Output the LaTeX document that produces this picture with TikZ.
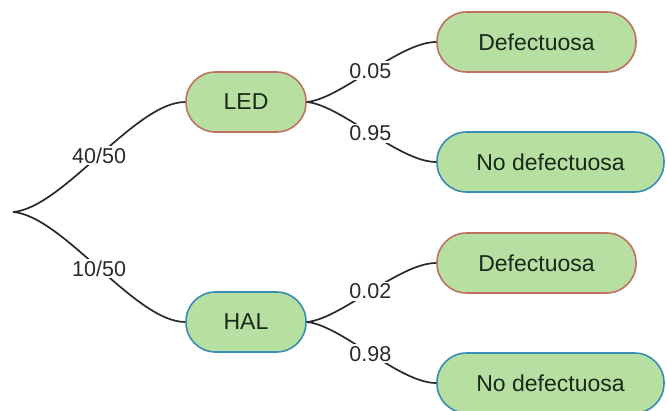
\documentclass[tikz,border=0pt]{standalone}
\usepackage{fontspec}
\setmainfont{Liberation Sans}
\definecolor{boxfill}{HTML}{B7DFA2}
\definecolor{redline}{HTML}{C07262}
\definecolor{blueline}{HTML}{3A8DB2}
\definecolor{edgecol}{HTML}{2A2A2A}
\definecolor{txt}{HTML}{1A2A1A}
\tikzset{
  pill/.style={draw, fill=boxfill, line width=1.6pt, rounded corners=29.5pt,
    minimum height=60pt, inner sep=0pt, text=txt,
    font=\fontsize{23}{27}\selectfont},
  redpill/.style={pill, draw=redline},
  bluepill/.style={pill, draw=blueline},
  conn/.style={draw=edgecol, line width=1.7pt},
  lbl/.style={fill=white, inner sep=2pt, text=edgecol,
    font=\fontsize{21.5}{25}\selectfont}
}
\begin{document}
\begin{tikzpicture}[x=1pt,y=-1pt]
\useasboundingbox (0,0) rectangle (667,410);
\clip (0,0) rectangle (667,410);
\coordinate (root) at (13,212);
\node[redpill, minimum width=120pt] (led) at (246,102) {LED};
\node[bluepill, minimum width=120pt] (hal) at (246,322) {HAL};
\node[redpill, minimum width=199pt] (d1) at (536.5,42) {Defectuosa};
\node[bluepill, minimum width=227pt] (n1) at (550.5,162) {No defectuosa};
\node[redpill, minimum width=199pt] (d2) at (536.5,263) {Defectuosa};
\node[bluepill, minimum width=227pt] (n2) at (550.5,383) {No defectuosa};

\draw[conn] (root) .. controls +(50,-4) and +(-50,0) .. node[lbl, pos=0.5] (l1) {40/50} (led.west);
\draw[conn] (root) .. controls +(50,4) and +(-50,0) .. node[lbl, pos=0.5] (l2) {10/50} (hal.west);
\draw[conn] (led.east) .. controls +(34,-3) and +(-37,0) .. node[lbl] (l3) {0.05} (d1.west);
\draw[conn] (led.east) .. controls +(34,3) and +(-37,0) .. node[lbl] (l4) {0.95} (n1.west);
\draw[conn] (hal.east) .. controls +(34,-3) and +(-37,0) .. node[lbl] (l5) {0.02} (d2.west);
\draw[conn] (hal.east) .. controls +(34,3) and +(-37,0) .. node[lbl] (l6) {0.98} (n2.west);
\end{tikzpicture}
\end{document}
